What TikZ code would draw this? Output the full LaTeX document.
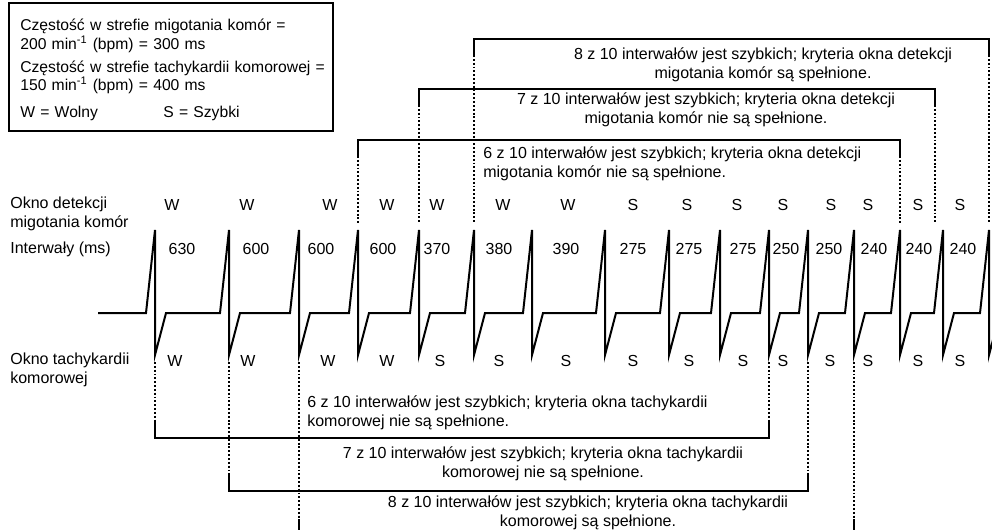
\documentclass[tikz,border=0pt]{standalone}
\usepackage{fontspec}
\setmainfont{Liberation Sans}
\usetikzlibrary{positioning}

\begin{document}
\begin{tikzpicture}[x=0.625pt, y=-0.625pt, font=\fontsize{10}{11.6}\selectfont]
    \tikzstyle{lbl} = [inner sep=0pt]
    \tikzstyle{note} = [inner sep=0pt, align=center]
    \tikzstyle{ecg} = [line width=1.25pt]
    \tikzstyle{window} = [line width=0.65pt]
    \tikzstyle{guide} = [line width=0.65pt, dash pattern=on 1.2pt off 1.2pt]

    \useasboundingbox (0,0) rectangle (992,529);

    % legend
    \draw [window] (9,3) rectangle (333,131);
    \node [lbl, anchor=west, text width=196pt, align=left, font=\fontsize{9.8}{11.6}\selectfont] (legend) at (20,70)
        {Częstość w strefie migotania komór =\\
         200 min\textsuperscript{-1} (bpm) = 300 ms\\[2.8pt]
         Częstość w strefie tachykardii komorowej =\\
         150 min\textsuperscript{-1} (bpm) = 400 ms\\[5.3pt]
         \makebox[89.4pt][l]{W = Wolny}S = Szybki};

    % row titles
    \node [lbl, anchor=west, align=left] (vfLabel) at (10,214) {Okno detekcji\\migotania komór};
    \node [lbl, anchor=west] (intLabel) at (10,249) {Interwały (ms)};
    \node [lbl, anchor=west, align=left] (vtLabel) at (10,370) {Okno tachykardii\\komorowej};

    % rhythm strip
    \draw [ecg] (98,313)
        \foreach \s in {155,229,299,358,419,474,532,605,669,720,769,808,854,900,943,989}
            { -- (\s-9,313) -- (\s,230) -- (\s,355) -- (\s+11,313) };

    \foreach \x/\t [count=\i] in {172/W,247/W,330/W,387/W,437/W,503/W,568/W,633/S,687/S,737/S,783/S,831/S,868/S,918/S,960/S}
        \node [lbl] (vf\i) at (\x,205) {\t};
    \foreach \x/\t [count=\i] in {182/630,256/600,321/600,383/600,437/370,499/380,566/390,633/275,689/275,743/275,786/250,829/250,874/240,919/240,963/240}
        \node [lbl] (int\i) at (\x,249) {\t};
    \foreach \x/\t [count=\i] in {175/W,248/W,328/W,387/W,440/S,499/S,566/S,633/S,689/S,743/S,783/S,830/S,868/S,918/S,960/S}
        \node [lbl] (vt\i) at (\x,361) {\t};

    % VF detection windows
    \draw [window] (474,55) -- (474,39) -- (989,39) -- (989,55);
    \draw [guide] (474,55) -- (474,223);
    \draw [guide] (989,55) -- (989,223);
    \node [note] (vfWin8) at (763,65) {8 z 10 interwałów jest szybkich; kryteria okna detekcji\\migotania komór są spełnione.};

    \draw [window] (419,105) -- (419,89) -- (935,89) -- (935,105);
    \draw [guide] (419,105) -- (419,223);
    \draw [guide] (935,105) -- (935,223);
    \node [note] (vfWin7) at (706,110) {7 z 10 interwałów jest szybkich; kryteria okna detekcji\\migotania komór nie są spełnione.};

    \draw [window] (358,156) -- (358,140) -- (900,140) -- (900,156);
    \draw [guide] (358,156) -- (358,223);
    \draw [guide] (900,156) -- (900,223);
    \node [note, align=left, anchor=west] (vfWin6) at (483,164) {6 z 10 interwałów jest szybkich; kryteria okna detekcji\\migotania komór nie są spełnione.};

    % VT windows
    \draw [guide] (155,362) -- (155,422);
    \draw [guide] (769,362) -- (769,422);
    \draw [window] (155,422) -- (155,438) -- (769,438) -- (769,422);
    \node [note, align=left, anchor=west] (vtWin6) at (307,413) {6 z 10 interwałów jest szybkich; kryteria okna tachykardii\\komorowej nie są spełnione.};

    \draw [guide] (229,362) -- (229,475);
    \draw [guide] (808,362) -- (808,475);
    \draw [window] (229,475) -- (229,491) -- (808,491) -- (808,475);
    \node [note] (vtWin7) at (543,464) {7 z 10 interwałów jest szybkich; kryteria okna tachykardii\\komorowej nie są spełnione.};

    \draw [guide] (299,362) -- (299,520);
    \draw [guide] (854,362) -- (854,520);
    \draw [window] (299,520) -- (299,545) -- (854,545) -- (854,520);
    \node [note] (vtWin8) at (588,513) {8 z 10 interwałów jest szybkich; kryteria okna tachykardii\\komorowej są spełnione.};
\end{tikzpicture}
\end{document}
